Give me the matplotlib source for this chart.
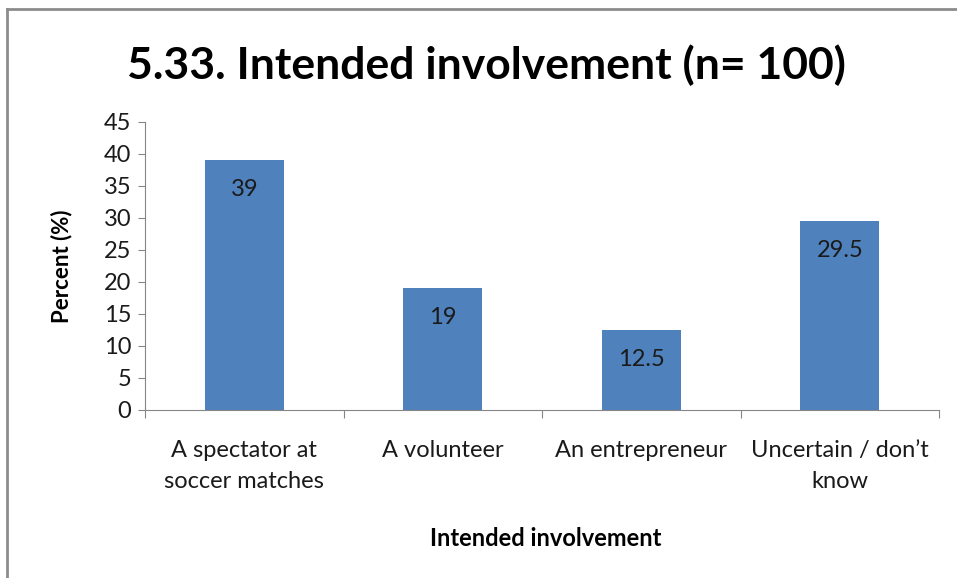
import matplotlib.pyplot as plt
import numpy as np

categories = ['A spectator at\nsoccer matches', 'A volunteer', 'An entrepreneur', 'Uncertain / don\u2019t\nknow']
percent = [39, 19, 12.5, 29.5]
value_labels = ['39', '19', '12.5', '29.5']
yticks = [0, 5, 10, 15, 20, 25, 30, 35, 40, 45]

plt.rcParams['font.family'] = ['Lato', 'DejaVu Sans']

fig = plt.figure(figsize=(9.57, 5.78), dpi=100)
ax = fig.add_axes([145 / 957, 1 - 410 / 578, (939 - 145) / 957, (410 - 122) / 578])

x = np.arange(len(categories))
bars = ax.bar(x, percent, width=0.4, color='#4F81BD')

for b, lab in zip(bars, value_labels):
    ax.annotate(lab, (b.get_x() + b.get_width() / 2, b.get_height()),
                xytext=(0, -29), textcoords='offset pixels',
                ha='center', va='center', fontsize=17, color='#1a1a1a')

ax.set_xlim(-0.5, len(categories) - 0.5)
ax.set_ylim(0, 45)
ax.set_yticks(yticks)
ax.tick_params(axis='y', labelsize=17, length=5, color='#868686', pad=5, labelcolor='#1a1a1a')

# category labels sit between boundary ticks
ax.set_xticks(np.arange(len(categories) + 1) - 0.5)
ax.set_xticklabels([])
ax.tick_params(axis='x', length=6, color='#868686')
for i, c in enumerate(categories):
    ax.annotate(c, (i, 0), xytext=(0, -30), textcoords='offset pixels',
                ha='center', va='top', fontsize=17, color='#1a1a1a', linespacing=1.6)

for s in ['top', 'right']:
    ax.spines[s].set_visible(False)
for s in ['left', 'bottom']:
    ax.spines[s].set_color('#868686')

ax.set_ylabel('Percent (%)', fontsize=16, fontweight='bold')
ax.yaxis.set_label_coords((72 - 145) / (939 - 145), 0.5)
fig.text(546 / 957, 1 - 538 / 578, 'Intended involvement', ha='center', va='center',
         fontsize=17, fontweight='bold')
fig.text(486 / 957, 1 - 65 / 578, '5.33. Intended involvement (n= 100)', ha='center',
         va='center', fontsize=32, fontweight='bold')

# chart frame
fig.add_artist(plt.Line2D([7 / 957, 7 / 957], [0, 1 - 9 / 578], transform=fig.transFigure,
                          color='#8c8c8c', lw=2))
fig.add_artist(plt.Line2D([7 / 957, 1], [1 - 9 / 578, 1 - 9 / 578], transform=fig.transFigure,
                          color='#8c8c8c', lw=2))

fig.savefig('out.png', dpi=100)
